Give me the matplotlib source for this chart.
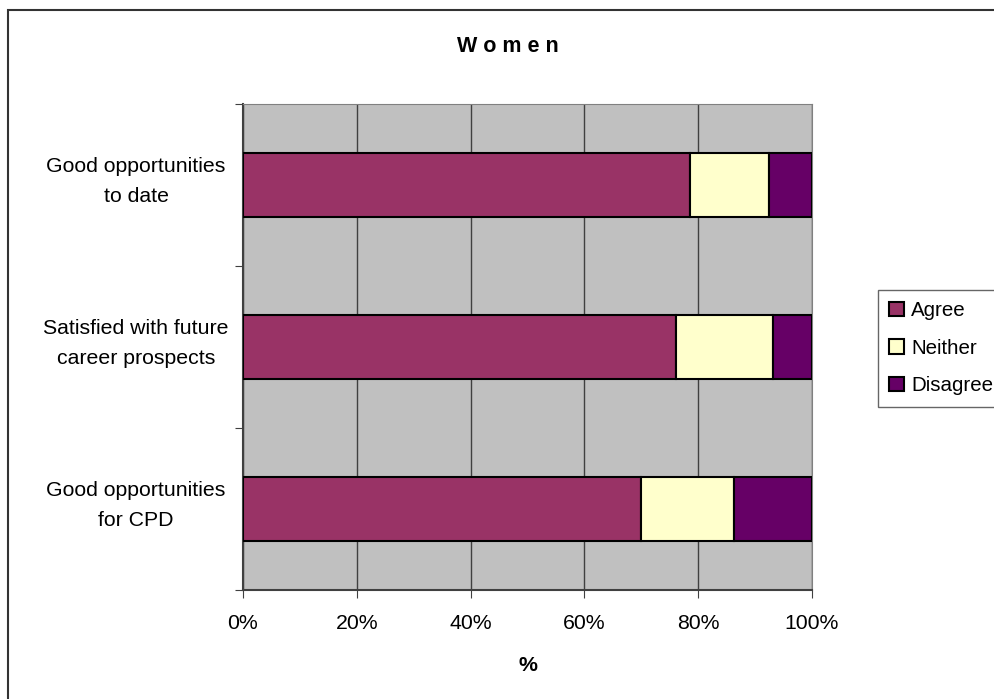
import matplotlib.pyplot as plt
from matplotlib.patches import Rectangle
from matplotlib.ticker import FixedLocator, PercentFormatter

plt.rcParams['font.family'] = ['Liberation Sans', 'DejaVu Sans']

# bottom to top
categories = ['Good opportunities\nfor CPD',
              'Satisfied with future\ncareer prospects',
              'Good opportunities\nto date']
agree = [70.0, 76.1, 78.6]
neither = [16.3, 17.0, 13.9]
disagree = [13.7, 6.9, 7.5]

series = ['Agree', 'Neither', 'Disagree']
colors = ['#993366', '#FFFFCC', '#660066']
fs = 15.3

fig = plt.figure(figsize=(9.94, 6.99), dpi=100)
fig.patches.append(Rectangle((8 / 994, -0.1), 1.2, 1 - 10 / 699 + 0.1,
                             transform=fig.transFigure, fill=False,
                             edgecolor='#333333', linewidth=1.5))

ax = fig.add_axes([243 / 994, 1 - 590 / 699, 569 / 994, 486 / 699])
ax.set_facecolor('#C0C0C0')

ypos = list(range(len(categories)))
left = [0] * len(categories)
for name, vals, col in zip(series, [agree, neither, disagree], colors):
    ax.barh(ypos, vals, left=left, height=0.4, color=col,
            edgecolor='black', linewidth=1.5, label=name, zorder=3)
    left = [a + b for a, b in zip(left, vals)]

ax.set_xlim(0, 100)
ax.set_ylim(-0.5, len(categories) - 0.5)
ax.set_xticks(range(0, 101, 20))
ax.xaxis.set_major_formatter(PercentFormatter(decimals=0))
ax.grid(axis='x', color='#404040', linewidth=1, zorder=1)
ax.set_axisbelow(True)

ax.yaxis.set_major_locator(FixedLocator([-0.5, 0.5, 1.5, 2.5]))
ax.set_yticklabels([])
ax.tick_params(axis='y', which='major', length=6, color='#404040')
ax.tick_params(axis='x', length=6, color='#404040', labelsize=fs, pad=11)

# category names, centred in a column left of the axis
for y, name in zip(ypos, categories):
    ax.annotate(name, xy=(0, y + 0.02), xycoords=('axes fraction', 'data'),
                xytext=(-107, 0), textcoords='offset pixels',
                ha='center', va='center', fontsize=fs, linespacing=1.75)

for side in ['top', 'right']:
    ax.spines[side].set_color('#808080')
for side in ['left', 'bottom']:
    ax.spines[side].set_color('#404040')
    ax.spines[side].set_linewidth(1.5)

ax.set_xlabel('%', fontsize=fs, fontweight='bold', labelpad=17)
fig.text(508 / 994, 1 - 46 / 699, 'W o m e n', ha='center', va='center',
         fontsize=15.5, fontweight='bold')

leg = fig.legend(loc='upper left', bbox_to_anchor=(878 / 994, 1 - 290 / 699),
                 fontsize=14.8, frameon=True, fancybox=False,
                 handlelength=0.7, handleheight=0.7, handletextpad=0.35,
                 labelspacing=0.9, borderpad=0.55, borderaxespad=0)
leg.get_frame().set_edgecolor('#404040')
leg.get_frame().set_linewidth(1)

fig.savefig('out.png', dpi=100)
